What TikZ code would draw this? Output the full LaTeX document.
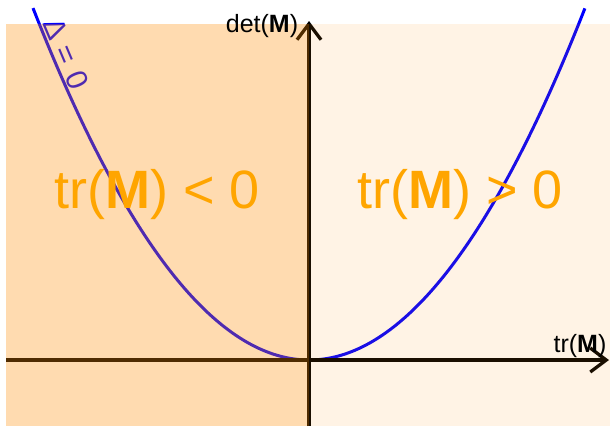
\documentclass[tikz,border=0pt]{standalone}
\usepackage{fontspec}
\setmainfont{Liberation Sans}
\usetikzlibrary{arrows.meta}
\definecolor{curveblue}{HTML}{0000FF}
\definecolor{shadeorange}{HTML}{FF8C00}
\definecolor{labelorange}{HTML}{FFA500}
\begin{document}
\begin{tikzpicture}[x=1pt,y=-1pt,
  axis/.style={line width=3.3pt, black, -{Straight Barb[length=16pt, width=24pt]}},
  curve/.style={curveblue, line width=3pt},
  axislabel/.style={anchor=base, inner sep=0pt, font=\fontsize{25}{25}\selectfont},
  biglabel/.style={labelorange, anchor=base, inner sep=0pt, font=\fontsize{54}{54}\selectfont}]
\useasboundingbox (0,0) rectangle (610,426);
% discriminant curve
\draw[curve] plot[domain=-2.76:2.76, samples=121, smooth] ({309+100*\x},{360-46.2*\x*\x});
\node[curveblue, rotate=-67, anchor=base west, inner sep=0pt, font=\fontsize{30}{30}\selectfont] (delta) at (42,23) {Δ\hspace{10pt}=\hspace{10pt}0};
% axes
\coordinate (xl) at (6,360);
\coordinate (xr) at (609,360);
\coordinate (yb) at (309,426);
\coordinate (yt) at (309,21);
\draw[axis] (xl) -- (xr);
\draw[axis] (yb) -- (yt);
% shaded half planes
\fill[shadeorange, fill opacity=0.31] (6,24) rectangle (309,426);
\fill[shadeorange, fill opacity=0.1] (309,24) rectangle (610,426);
% labels
\node[axislabel] (det) at (262,32) {det(\textbf{M})};
\node[axislabel] (tr) at (580,352) {tr(\textbf{M})};
\node[biglabel] (neg) at (157,208) {tr(\textbf{M}) < 0};
\node[biglabel] (pos) at (460,208) {tr(\textbf{M}) > 0};
\end{tikzpicture}
\end{document}
